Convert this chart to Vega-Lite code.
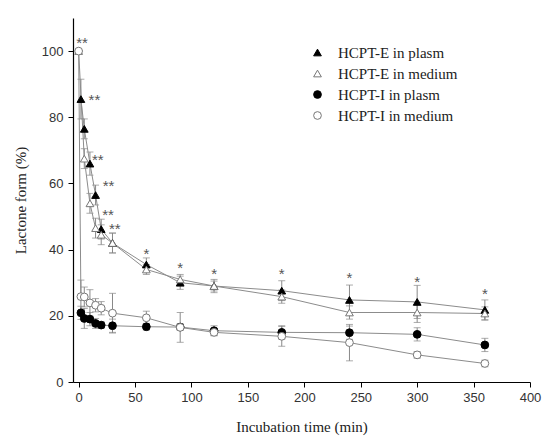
{
  "$schema": "https://vega.github.io/schema/vega-lite/v6.json",
  "width": 457,
  "height": 364,
  "autosize": {"type": "none"},
  "padding": {"left": 73, "top": 18, "right": 12, "bottom": 55},
  "background": "white",
  "config": {
    "view": {"stroke": null},
    "axis": {
      "grid": false,
      "domainColor": "#000",
      "domainWidth": 1.2,
      "tickColor": "#000",
      "tickWidth": 1,
      "labelFont": "Liberation Sans",
      "labelFontSize": 13,
      "labelColor": "#333",
      "titleFont": "Liberation Serif",
      "titleFontSize": 15,
      "titleFontWeight": "normal",
      "titleColor": "#222",
      "labelOverlap": false,
      "labelFlush": false
    },
    "legend": {
      "orient": "none", "legendX": 237, "legendY": 27, "title": null,
      "labelFont": "Liberation Serif", "labelFontSize": 15, "labelColor": "#222",
      "symbolSize": 60, "symbolStrokeWidth": 1, "symbolOpacity": 1, "labelOffset": 13, "rowPadding": 5
    }
  },
  "datasets": {
    "pts": [
      {"s": "HCPT-E in plasm", "t": 2, "v": 85.5, "e": 6},
      {"s": "HCPT-E in plasm", "t": 5, "v": 76.5, "e": 3},
      {"s": "HCPT-E in plasm", "t": 10, "v": 66, "e": 3.5},
      {"s": "HCPT-E in plasm", "t": 15, "v": 56.5, "e": 3},
      {"s": "HCPT-E in plasm", "t": 20, "v": 46.2, "e": 3},
      {"s": "HCPT-E in plasm", "t": 30, "v": 42, "e": 3},
      {"s": "HCPT-E in plasm", "t": 60, "v": 35.5, "e": 2},
      {"s": "HCPT-E in plasm", "t": 90, "v": 30, "e": 2},
      {"s": "HCPT-E in plasm", "t": 120, "v": 29, "e": 1.5},
      {"s": "HCPT-E in plasm", "t": 180, "v": 27.6, "e": 3},
      {"s": "HCPT-E in plasm", "t": 240, "v": 24.8, "e": 4.5},
      {"s": "HCPT-E in plasm", "t": 300, "v": 24.2, "e": 5},
      {"s": "HCPT-E in plasm", "t": 360, "v": 21.8, "e": 3},
      {"s": "HCPT-E in medium", "t": 0, "v": 100, "e": 0},
      {"s": "HCPT-E in medium", "t": 5, "v": 67.5, "e": 3},
      {"s": "HCPT-E in medium", "t": 10, "v": 54, "e": 3},
      {"s": "HCPT-E in medium", "t": 15, "v": 46.5, "e": 3},
      {"s": "HCPT-E in medium", "t": 20, "v": 44.5, "e": 3},
      {"s": "HCPT-E in medium", "t": 30, "v": 42, "e": 3},
      {"s": "HCPT-E in medium", "t": 60, "v": 34, "e": 1.5},
      {"s": "HCPT-E in medium", "t": 90, "v": 31, "e": 1.5},
      {"s": "HCPT-E in medium", "t": 120, "v": 29, "e": 2},
      {"s": "HCPT-E in medium", "t": 180, "v": 25.8, "e": 2},
      {"s": "HCPT-E in medium", "t": 240, "v": 21, "e": 2},
      {"s": "HCPT-E in medium", "t": 300, "v": 21, "e": 3},
      {"s": "HCPT-E in medium", "t": 360, "v": 20.7, "e": 2},
      {"s": "HCPT-I in plasm", "t": 2, "v": 20.9, "e": 2},
      {"s": "HCPT-I in plasm", "t": 5, "v": 19.2, "e": 3},
      {"s": "HCPT-I in plasm", "t": 10, "v": 19, "e": 2},
      {"s": "HCPT-I in plasm", "t": 15, "v": 17.7, "e": 1.5},
      {"s": "HCPT-I in plasm", "t": 20, "v": 17.2, "e": 1},
      {"s": "HCPT-I in plasm", "t": 30, "v": 17, "e": 2},
      {"s": "HCPT-I in plasm", "t": 60, "v": 16.7, "e": 1},
      {"s": "HCPT-I in plasm", "t": 90, "v": 16.6, "e": 1},
      {"s": "HCPT-I in plasm", "t": 120, "v": 15.5, "e": 1.5},
      {"s": "HCPT-I in plasm", "t": 180, "v": 15, "e": 2},
      {"s": "HCPT-I in plasm", "t": 240, "v": 14.9, "e": 2},
      {"s": "HCPT-I in plasm", "t": 300, "v": 14.4, "e": 2},
      {"s": "HCPT-I in plasm", "t": 360, "v": 11.2, "e": 2},
      {"s": "HCPT-I in medium", "t": 0, "v": 100, "e": 0},
      {"s": "HCPT-I in medium", "t": 2, "v": 25.8, "e": 5},
      {"s": "HCPT-I in medium", "t": 5, "v": 25.7, "e": 3},
      {"s": "HCPT-I in medium", "t": 10, "v": 23.9, "e": 4},
      {"s": "HCPT-I in medium", "t": 15, "v": 23.2, "e": 2},
      {"s": "HCPT-I in medium", "t": 20, "v": 22.3, "e": 2},
      {"s": "HCPT-I in medium", "t": 30, "v": 20.8, "e": 6},
      {"s": "HCPT-I in medium", "t": 60, "v": 19.4, "e": 2},
      {"s": "HCPT-I in medium", "t": 90, "v": 16.5, "e": 4.5},
      {"s": "HCPT-I in medium", "t": 120, "v": 15, "e": 1},
      {"s": "HCPT-I in medium", "t": 180, "v": 13.8, "e": 3},
      {"s": "HCPT-I in medium", "t": 240, "v": 11.9, "e": 5.5},
      {"s": "HCPT-I in medium", "t": 300, "v": 8.2, "e": 1},
      {"s": "HCPT-I in medium", "t": 360, "v": 5.6, "e": 1}
    ],
    "stars": [
      {"t": 3, "v": 103.5, "txt": "**"},
      {"t": 14, "v": 86, "txt": "**"},
      {"t": 17, "v": 68, "txt": "**"},
      {"t": 26.5, "v": 60, "txt": "**"},
      {"t": 26, "v": 51.5, "txt": "**"},
      {"t": 32, "v": 47, "txt": "**"},
      {"t": 60, "v": 39.7, "txt": "*"},
      {"t": 90, "v": 35.3, "txt": "*"},
      {"t": 120, "v": 33.6, "txt": "*"},
      {"t": 180, "v": 33.6, "txt": "*"},
      {"t": 240, "v": 32.3, "txt": "*"},
      {"t": 300, "v": 31.2, "txt": "*"},
      {"t": 360, "v": 27.6, "txt": "*"}
    ]
  },
  "layer": [
    {
      "data": {"name": "pts"},
      "mark": {"type": "errorbar", "ticks": {"size": 7, "color": "#888"}, "rule": {"color": "#888", "strokeWidth": 1}},
      "encoding": {
        "x": {"field": "t", "type": "quantitative", "title": "Incubation time (min)", "scale": {"domain": [-5, 400], "nice": false, "zero": false}},
        "y": {"field": "v", "type": "quantitative", "title": "Lactone form (%)", "scale": {"domain": [0, 110], "nice": false}},
        "yError": {"field": "e"}
      }
    },
    {
      "data": {"name": "pts"},
      "mark": {"type": "line", "color": "#8c8c8c", "strokeWidth": 1},
      "encoding": {
        "x": {"field": "t", "type": "quantitative", "title": "Incubation time (min)", "scale": {"domain": [-5, 400], "nice": false, "zero": false},
          "axis": {"values": [0, 25, 50, 75, 100, 125, 150, 175, 200, 225, 250, 275, 300, 325, 350, 375, 400],
            "labelExpr": "datum.value % 50 === 0 ? datum.label : ''",
            "tickSize": {"condition": {"test": "datum.value % 50 === 0", "value": 5}, "value": 3},
            "labelPadding": 4, "titlePadding": 15}},
        "y": {"field": "v", "type": "quantitative", "title": "Lactone form (%)", "scale": {"domain": [0, 110], "nice": false},
          "axis": {"values": [0, 10, 20, 30, 40, 50, 60, 70, 80, 90, 100, 110],
            "labelExpr": "datum.value % 20 === 0 && datum.value <= 100 ? datum.label : ''",
            "tickSize": {"condition": {"test": "datum.value % 20 === 0", "value": 5}, "value": 3},
            "labelPadding": 5, "titlePadding": 13}},
        "detail": {"field": "s"}
      }
    },
    {
      "data": {"name": "pts"},
      "mark": {"type": "point", "filled": true, "opacity": 1, "strokeWidth": 1, "size": 60},
      "encoding": {
        "x": {"field": "t", "type": "quantitative", "title": "Incubation time (min)", "scale": {"domain": [-5, 400], "nice": false, "zero": false}},
        "y": {"field": "v", "type": "quantitative", "title": "Lactone form (%)", "scale": {"domain": [0, 110], "nice": false}},
        "shape": {"field": "s", "type": "nominal",
          "scale": {"domain": ["HCPT-E in plasm", "HCPT-E in medium", "HCPT-I in plasm", "HCPT-I in medium"], "range": ["triangle-up", "triangle-up", "circle", "circle"]}},
        "fill": {"field": "s", "type": "nominal",
          "scale": {"domain": ["HCPT-E in plasm", "HCPT-E in medium", "HCPT-I in plasm", "HCPT-I in medium"], "range": ["#000000", "#ffffff", "#000000", "#ffffff"]}},
        "stroke": {"field": "s", "type": "nominal",
          "scale": {"domain": ["HCPT-E in plasm", "HCPT-E in medium", "HCPT-I in plasm", "HCPT-I in medium"], "range": ["#000000", "#777777", "#000000", "#777777"]}}
      }
    },
    {
      "data": {"name": "stars"},
      "mark": {"type": "text", "font": "Liberation Sans", "fontSize": 15, "color": "#555", "baseline": "alphabetic", "dy": 8},
      "encoding": {
        "x": {"field": "t", "type": "quantitative", "title": "Incubation time (min)", "scale": {"domain": [-5, 400], "nice": false, "zero": false}},
        "y": {"field": "v", "type": "quantitative", "title": "Lactone form (%)", "scale": {"domain": [0, 110], "nice": false}},
        "text": {"field": "txt"}
      }
    }
  ]
}
